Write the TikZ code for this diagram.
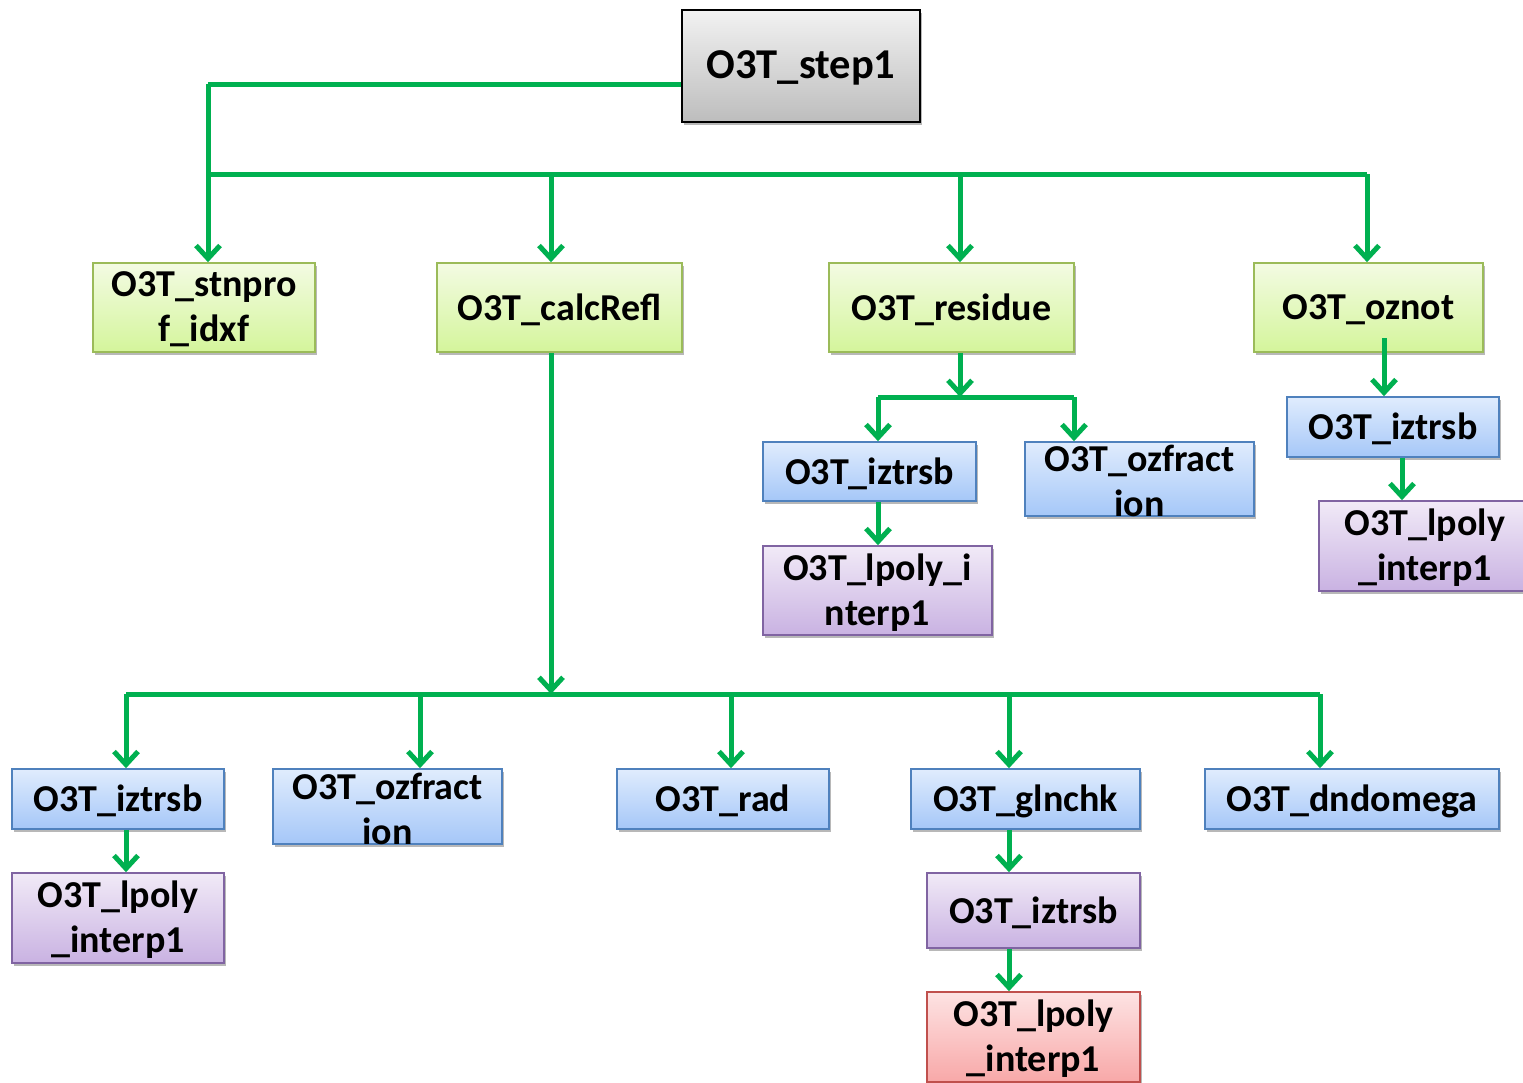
\documentclass[tikz,border=0pt]{standalone}
\usepackage{fontspec}
\setmainfont{Carlito}
\usetikzlibrary{arrows.meta,shadows}

\definecolor{arrgreen}{HTML}{00B050}
\definecolor{greenedge}{HTML}{9BBB59}
\definecolor{greentop}{HTML}{F3FBE3}
\definecolor{greenbot}{HTML}{D4F59B}
\definecolor{blueedge}{HTML}{4F81BD}
\definecolor{bluetop}{HTML}{E0ECFD}
\definecolor{bluebot}{HTML}{A5C7F8}
\definecolor{purpleedge}{HTML}{8064A2}
\definecolor{purpletop}{HTML}{F1EAF7}
\definecolor{purplebot}{HTML}{C9B2E2}
\definecolor{rededge}{HTML}{C0504D}
\definecolor{redtop}{HTML}{FDE3E3}
\definecolor{redbot}{HTML}{F8A8A8}
\definecolor{graytop}{HTML}{F2F2F2}
\definecolor{graybot}{HTML}{BDBDBD}

\tikzset{
  basebox/.style={rectangle, inner sep=0pt, line width=1.6pt,
    drop shadow={shadow xshift=1.5pt, shadow yshift=-3pt, opacity=0.28, fill=black}},
  lbl/.style={align=center, inner sep=0pt, yshift=-2pt, font=\bfseries\fontsize{38}{45}\selectfont},
  greenbox/.style={basebox, draw=greenedge, top color=greentop, bottom color=greenbot},
  bluebox/.style={basebox, draw=blueedge, top color=bluetop, bottom color=bluebot},
  purplebox/.style={basebox, draw=purpleedge, top color=purpletop, bottom color=purplebot},
  redbox/.style={basebox, draw=rededge, top color=redtop, bottom color=redbot},
  graybox/.style={basebox, draw=black, top color=graytop, bottom color=graybot},
  wire/.style={draw=arrgreen, line width=5pt},
  arr/.style={wire, -{Straight Barb[length=13pt,width=24pt]}},
}

\begin{document}
\begin{tikzpicture}[x=1pt,y=-1pt]
\useasboundingbox (0,0) rectangle (1523,1082);
\clip (0,0) rectangle (1523,1082);

% root
\node[graybox, minimum width=238, minimum height=112,
  label={[lbl, font=\bfseries\fontsize{42.5}{50}\selectfont]center:O3T\_step1}] (s1) at (801,66) {};

% first level
\node[greenbox, minimum width=222, minimum height=89,
  label={[lbl]center:O3T\_stnpro\\f\_idxf}] (stn) at (204,307.5) {};
\node[greenbox, minimum width=245, minimum height=89,
  label={[lbl]center:O3T\_calcRefl}] (cal) at (559.5,307.5) {};
\node[greenbox, minimum width=245, minimum height=89,
  label={[lbl]center:O3T\_residue}] (res) at (951.5,307.5) {};
\node[greenbox, minimum width=229, minimum height=89,
  label={[lbl]center:O3T\_oznot}] (ozn) at (1368.5,307.5) {};

% residue branch
\node[bluebox, minimum width=213, minimum height=59,
  label={[lbl]center:O3T\_iztrsb}] (iza) at (869.5,471.5) {};
\node[bluebox, minimum width=229, minimum height=74,
  label={[lbl]center:O3T\_ozfract\\ion}] (oza) at (1139.5,479) {};
\node[purplebox, minimum width=229, minimum height=89,
  label={[lbl]center:O3T\_lpoly\_i\\nterp1}] (lpa) at (877.5,590.5) {};

% oznot branch
\node[bluebox, minimum width=212, minimum height=60,
  label={[lbl]center:O3T\_iztrsb}] (izb) at (1393,427) {};
\node[purplebox, minimum width=212, minimum height=90,
  label={[lbl]center:O3T\_lpoly\\\_interp1}] (lpb) at (1425,546) {};

% calcRefl branch
\node[bluebox, minimum width=212, minimum height=60,
  label={[lbl]center:O3T\_iztrsb}] (izc) at (118,799) {};
\node[bluebox, minimum width=229, minimum height=75,
  label={[lbl]center:O3T\_ozfract\\ion}] (ozc) at (387.5,806.5) {};
\node[bluebox, minimum width=212, minimum height=60,
  label={[lbl]center:O3T\_rad}] (rad) at (723,799) {};
\node[bluebox, minimum width=229, minimum height=60,
  label={[lbl]center:O3T\_glnchk}] (gln) at (1025.5,799) {};
\node[bluebox, minimum width=294, minimum height=60,
  label={[lbl]center:O3T\_dndomega}] (dnd) at (1352,799) {};

\node[purplebox, minimum width=212, minimum height=90,
  label={[lbl]center:O3T\_lpoly\\\_interp1}] (lpc) at (118,918) {};
\node[purplebox, minimum width=213, minimum height=75,
  label={[lbl]center:O3T\_iztrsb}] (izd) at (1033.5,910.5) {};
\node[redbox, minimum width=213, minimum height=90,
  label={[lbl]center:O3T\_lpoly\\\_interp1}] (lpd) at (1033.5,1037) {};

% junction points of the connector buses
\coordinate (j0) at (208,84);
\coordinate (b1) at (208,174);
\coordinate (b2) at (551,174);
\coordinate (b3) at (960,174);
\coordinate (b4) at (1367,174);
\coordinate (r0) at (960,397);
\coordinate (r1) at (878,397);
\coordinate (r2) at (1074,397);
\coordinate (o0) at (1384,338);
\coordinate (c0) at (551,694);
\coordinate (c1) at (126,694);
\coordinate (c2) at (420,694);
\coordinate (c3) at (731,694);
\coordinate (c4) at (1009,694);
\coordinate (c5) at (1320,694);

% root to first level
\draw[wire] (s1.west |- j0) -- (j0);
\draw[arr] (j0) -- (j0 |- stn.north);
\draw[wire] (b1) -- (b4);
\draw[arr] (b2) -- (b2 |- cal.north);
\draw[arr] (b3) -- (b3 |- res.north);
\draw[arr] (b4) -- (b4 |- ozn.north);

% residue
\draw[arr] (r0 |- res.south) -- (r0);
\draw[wire] (r1) -- (r2);
\draw[arr] (r1) -- (r1 |- iza.north);
\draw[arr] (r2) -- (r2 |- oza.north);
\draw[arr] (r1 |- iza.south) -- (r1 |- lpa.north);

% oznot
\draw[arr] (o0) -- (o0 |- izb.north);
\draw[arr] (izb.south -| 1402,0) -- (lpb.north -| 1402,0);

% calcRefl
\draw[arr] (c0 |- cal.south) -- (c0);
\draw[wire] (c1) -- (c5);
\draw[arr] (c1) -- (c1 |- izc.north);
\draw[arr] (c2) -- (c2 |- ozc.north);
\draw[arr] (c3) -- (c3 |- rad.north);
\draw[arr] (c4) -- (c4 |- gln.north);
\draw[arr] (c5) -- (c5 |- dnd.north);
\draw[arr] (c1 |- izc.south) -- (c1 |- lpc.north);
\draw[arr] (c4 |- gln.south) -- (c4 |- izd.north);
\draw[arr] (c4 |- izd.south) -- (c4 |- lpd.north);
\end{tikzpicture}
\end{document}
